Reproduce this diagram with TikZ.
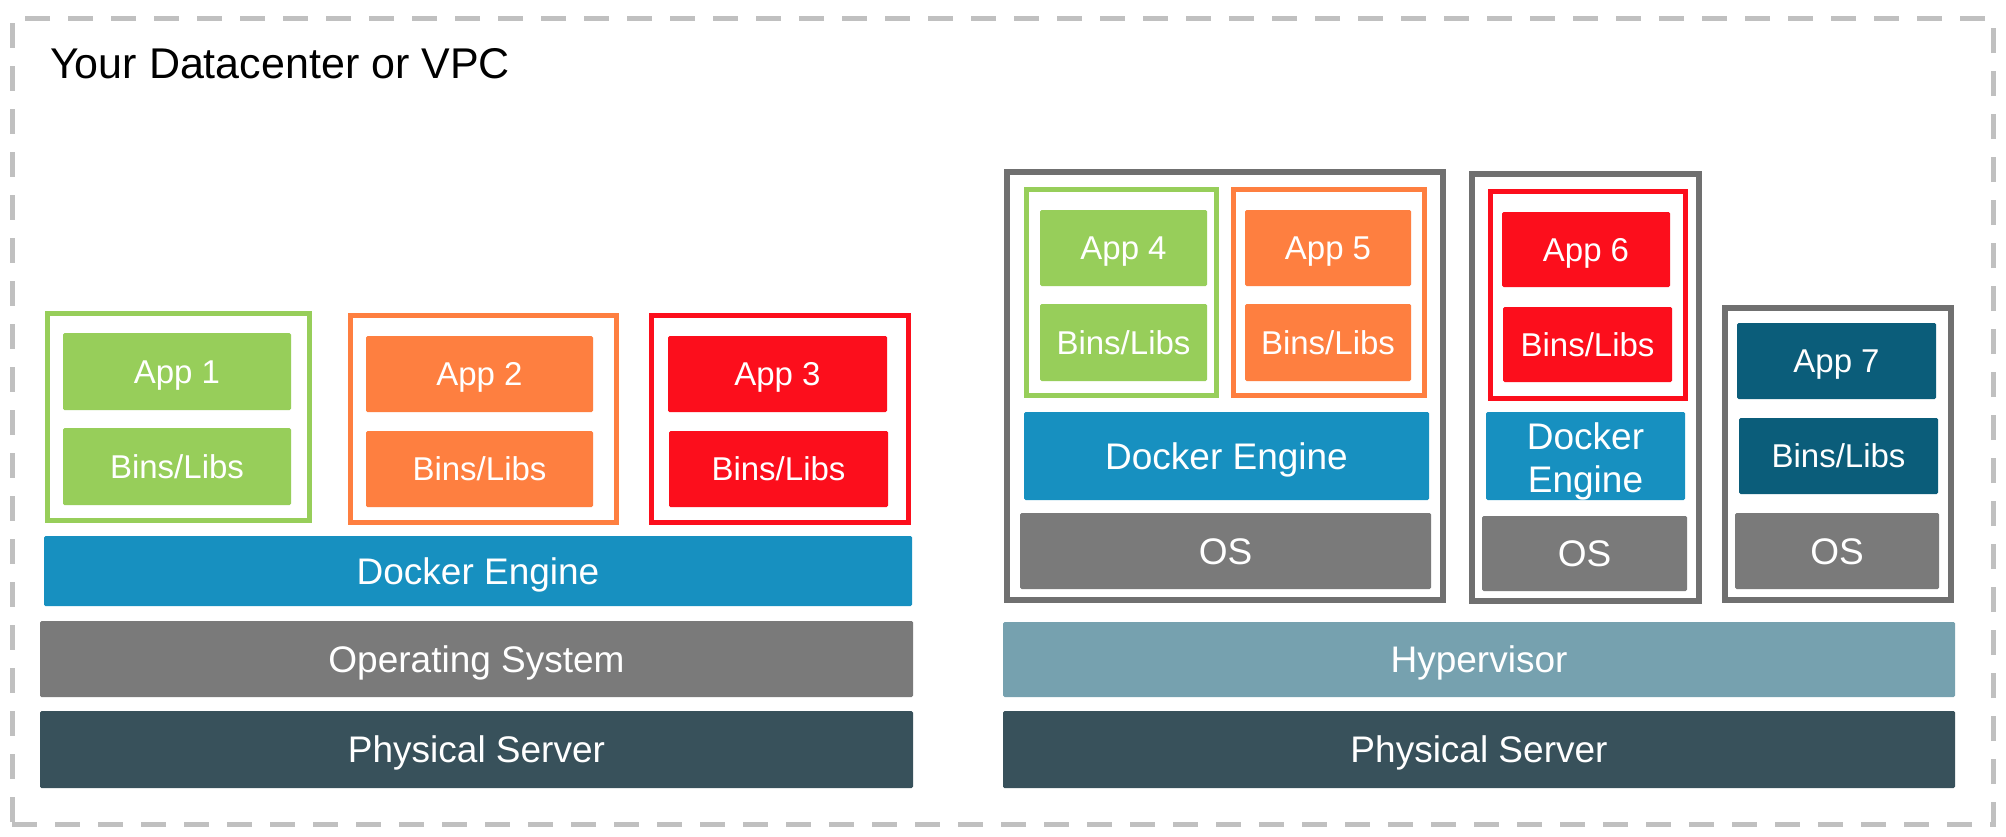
\documentclass[tikz,border=0pt]{standalone}
\usepackage{fontspec}
\setmainfont{Liberation Sans}
\definecolor{cgreen}{HTML}{97CE5A}
\definecolor{corange}{HTML}{FE7F40}
\definecolor{cred}{HTML}{FC0E1C}
\definecolor{cblue}{HTML}{1790C0}
\definecolor{cgray}{HTML}{7A7A7A}
\definecolor{cdark}{HTML}{38515B}
\definecolor{chyp}{HTML}{76A1AF}
\definecolor{cteal}{HTML}{0B5D7A}
\definecolor{cdash}{HTML}{C0C0C0}
\definecolor{cvm}{HTML}{707070}
% style, name, x1, y1, x2, y2, text
\newcommand\mybox[7]{%
  \pgfmathsetmacro\mycx{(#3+#5)/2}%
  \pgfmathsetmacro\mycy{(#4+#6)/2}%
  \pgfmathsetmacro\mybw{#5-#3}%
  \pgfmathsetmacro\mybh{#6-#4}%
  \node[#1, minimum width=\mybw pt, minimum height=\mybh pt] (#2) at (\mycx,\mycy) {#7};}
\begin{document}
\begin{tikzpicture}[x=1pt,y=-1pt,
  blk/.style={rectangle, inner sep=0pt, outer sep=0pt, text=white, align=center, rounded corners=1.5pt},
  big/.style={blk, font=\fontsize{37}{43}\selectfont, text height=26.6pt, text depth=0pt},
  bigtwo/.style={blk, font=\fontsize{37}{43}\selectfont},
  small/.style={blk, font=\fontsize{33}{38}\selectfont, text height=23.8pt, text depth=0pt},
  ctr/.style={rectangle, inner sep=0pt, outer sep=0pt, fill=white, line width=5pt},
  vm/.style={rectangle, inner sep=0pt, outer sep=0pt, fill=white, draw=cvm, line width=6pt},
  frame/.style={rectangle, inner sep=0pt, outer sep=0pt, draw=cdash, line width=5pt, dash pattern=on 25pt off 18pt},
]
\useasboundingbox (0,0) rectangle (2006,836);
% frame
\mybox{frame}{frame}{12}{18}{1993}{824}{}
\node[anchor=base west, inner sep=0pt, font=\fontsize{43}{50}\selectfont] (title) at (50,78) {Your Datacenter or VPC};

% ---------- left: containers ----------
\mybox{ctr, draw=cgreen}{c1}{47.5}{313.5}{309.5}{520.5}{}
\mybox{ctr, draw=corange}{c2}{350.5}{315.5}{616.5}{522.5}{}
\mybox{ctr, draw=cred}{c3}{651.5}{315.5}{908.5}{522.5}{}
\mybox{small, fill=cgreen}{a1}{63}{333}{291}{410}{App 1}
\mybox{small, fill=cgreen}{b1}{63}{428}{291}{505}{Bins/Libs}
\mybox{small, fill=corange}{a2}{366}{336}{593}{412}{App 2}
\mybox{small, fill=corange}{b2}{366}{431}{593}{507}{Bins/Libs}
\mybox{small, fill=cred}{a3}{668}{336}{887}{412}{App 3}
\mybox{small, fill=cred}{b3}{669}{431}{888}{507}{Bins/Libs}
\mybox{big, fill=cblue}{dock}{44}{536}{912}{606}{Docker Engine}
\mybox{big, fill=cgray}{os}{40}{621}{913}{697}{Operating System}
\mybox{big, fill=cdark}{phys}{40}{711}{913}{788}{Physical Server}

% ---------- right: VMs ----------
\mybox{vm}{vm1}{1007}{172}{1443}{600}{}
\mybox{vm}{vm2}{1472}{174}{1699}{601}{}
\mybox{vm}{vm3}{1725}{308}{1951}{600}{}

\mybox{ctr, draw=cgreen}{c4}{1026.5}{189.5}{1216.5}{395.5}{}
\mybox{ctr, draw=corange}{c5}{1233.5}{189.5}{1424.5}{395.5}{}
\mybox{small, fill=cgreen}{a4}{1040}{210}{1207}{286}{App 4}
\mybox{small, fill=cgreen}{b4}{1040}{304}{1207}{381}{Bins/Libs}
\mybox{small, fill=corange}{a5}{1245}{210}{1411}{286}{App 5}
\mybox{small, fill=corange}{b5}{1245}{304}{1411}{381}{Bins/Libs}
\mybox{big, fill=cblue}{d1}{1024}{412}{1429}{500}{Docker Engine}
\mybox{big, fill=cgray}{os1}{1020}{513}{1431}{589}{OS}

\mybox{ctr, draw=cred}{c6}{1490.5}{191.5}{1685.5}{398.5}{}
\mybox{small, fill=cred}{a6}{1502}{212}{1670}{287}{App 6}
\mybox{small, fill=cred}{b6}{1503}{307}{1672}{382}{Bins/Libs}
\mybox{bigtwo, fill=cblue}{d2}{1486}{412}{1685}{500}{\rule{0pt}{37pt}Docker\\Engine}
\mybox{big, fill=cgray}{os2}{1482}{516}{1687}{591}{OS}

\mybox{small, fill=cteal}{a7}{1737}{323}{1936}{399}{App 7}
\mybox{small, fill=cteal}{b7}{1739}{418}{1938}{494}{Bins/Libs}
\mybox{big, fill=cgray}{os3}{1735}{513}{1939}{589}{OS}

\mybox{big, fill=chyp}{hyp}{1003}{622}{1955}{697}{Hypervisor}
\mybox{big, fill=cdark}{phys2}{1003}{711}{1955}{788}{Physical Server}
\end{tikzpicture}
\end{document}
